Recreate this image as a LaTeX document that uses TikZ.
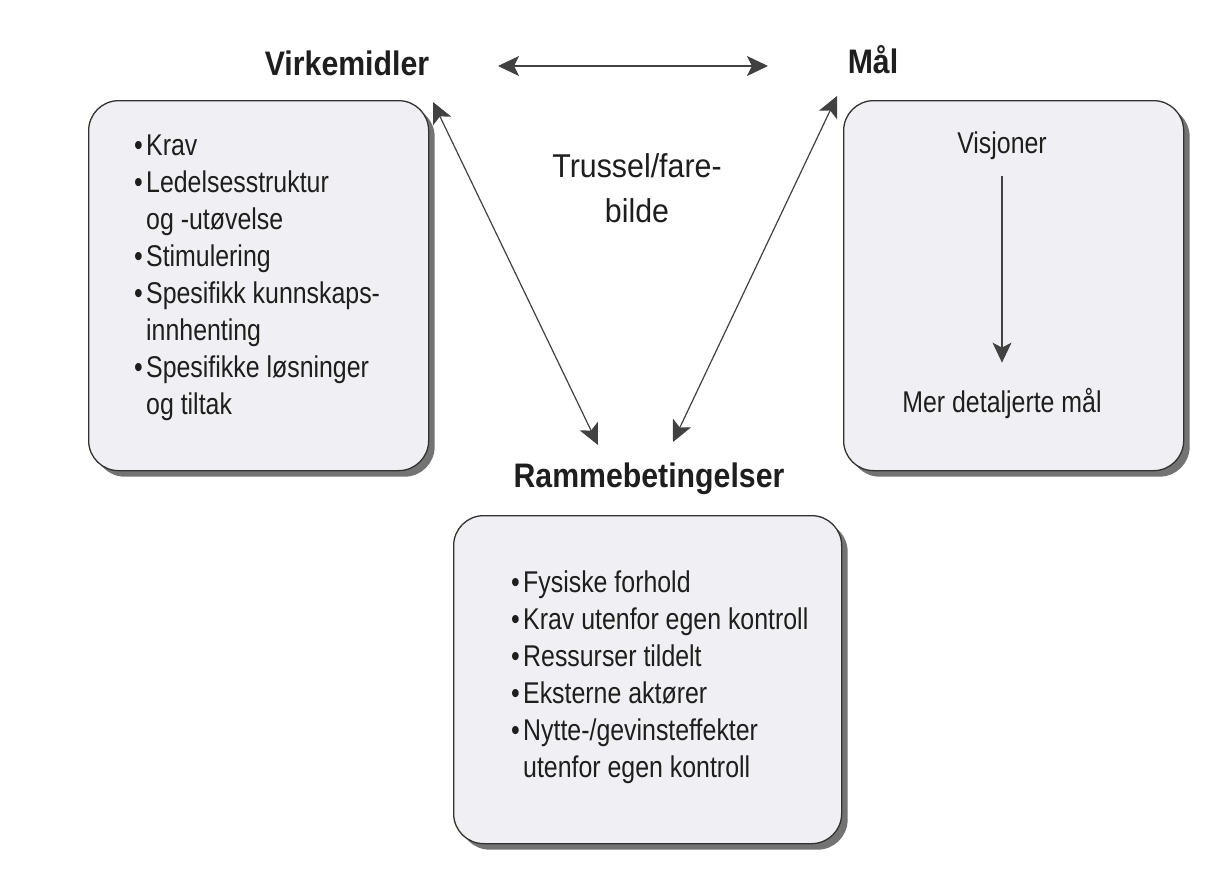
\documentclass[tikz,border=0pt]{standalone}
\usepackage{fontspec}
\setmainfont{Liberation Sans}
\newfontfamily\bodyf[FakeStretch=0.83]{Liberation Sans}
\newfontfamily\midf[FakeStretch=0.92]{Liberation Sans}
\newfontfamily\titlef[FakeStretch=0.89]{Liberation Sans}
\usetikzlibrary{arrows.meta,shadows}
\definecolor{boxfill}{RGB}{240,240,244}
\definecolor{boxline}{RGB}{50,50,50}
\definecolor{shade}{RGB}{115,115,115}
\definecolor{ink}{RGB}{30,30,30}
\definecolor{arrowc}{RGB}{65,65,65}
\newcommand\bl{\makebox[12pt][l]{•}}
\newcommand\ind{\hspace*{12pt}}
\begin{document}
\begin{tikzpicture}[x=1pt,y=-1pt,
  card/.style={draw=boxline, line width=1.3pt, fill=boxfill, rounded corners=30pt,
    drop shadow={shadow xshift=6pt, shadow yshift=-6pt, fill=shade, opacity=1},
    anchor=north west, inner sep=0pt},
  body/.style={font=\bodyf\fontsize{30}{37}\selectfont, text=ink, inner sep=0pt},
  title/.style={font=\titlef\bfseries\fontsize{34}{40}\selectfont, text=ink, inner sep=0pt},
  conn/.style={draw=arrowc, line width=1.2pt,
    arrows={Stealth[length=21pt,width=20pt,inset=5pt,fill=arrowc]-Stealth[length=21pt,width=20pt,inset=5pt,fill=arrowc]}},
  oneway/.style={draw=arrowc, line width=1.2pt,
    arrows={-Stealth[length=20pt,width=19pt,inset=5pt,fill=arrowc]}}
]
\useasboundingbox[fill=white] (0,0) rectangle (1219,870);

% boxes
\node[card, minimum width=340pt, minimum height=370pt] (vbox) at (88,100) {};
\node[card, minimum width=340pt, minimum height=370pt] (mbox) at (843,100) {};
\node[card, minimum width=388pt, minimum height=328pt] (rbox) at (453,515) {};

% titles
\node[title, anchor=base] (virk) at (347,75) {Virkemidler};
\node[title, anchor=base] (maal) at (873,73) {Mål};
\node[title, anchor=base] (ramme) at (649,487) {Rammebetingelser};

% centre text
\node[font=\midf\fontsize{33}{45}\selectfont, text=ink, inner sep=0pt, anchor=base] (trussel) at (637,177)
  {\begin{tabular}[t]{@{}c@{}}Trussel/fare-\\bilde\end{tabular}};

% left box content
\node[body, anchor=base west] (vlist) at (134,155) {\begin{tabular}[t]{@{}l@{}}\bl Krav\\ \bl Ledelsesstruktur\\ \ind og -utøvelse\\ \bl Stimulering\\ \bl Spesifikk kunnskaps-\\ \ind innhenting\\ \bl Spesifikke løsninger\\ \ind og tiltak\end{tabular}};

% bottom box content
\node[body, anchor=base west] (rlist) at (511,592) {\begin{tabular}[t]{@{}l@{}}\bl Fysiske forhold\\ \bl Krav utenfor egen kontroll\\ \bl Ressurser tildelt\\ \bl Eksterne aktører\\ \bl Nytte-/gevinsteffekter\\ \ind utenfor egen kontroll\end{tabular}};

% right box content
\node[body, anchor=base] (vis) at (1002,153) {Visjoner};
\node[body, anchor=base] (mer) at (1002,412) {Mer detaljerte mål};
\draw[oneway, shorten <=17pt, shorten >=25pt] (vis.south) -- (mer.north);

% connectors
\coordinate (vm-l) at (498,66);
\coordinate (vm-r) at (768,66);
\coordinate (vr-t) at (433,102);
\coordinate (vr-b) at (598,445);
\coordinate (mr-t) at (837,96);
\coordinate (mr-b) at (673,442);
\draw[conn] (vm-l) -- (vm-r);
\draw[conn] (vr-t) -- (vr-b);
\draw[conn] (mr-t) -- (mr-b);
\end{tikzpicture}
\end{document}
